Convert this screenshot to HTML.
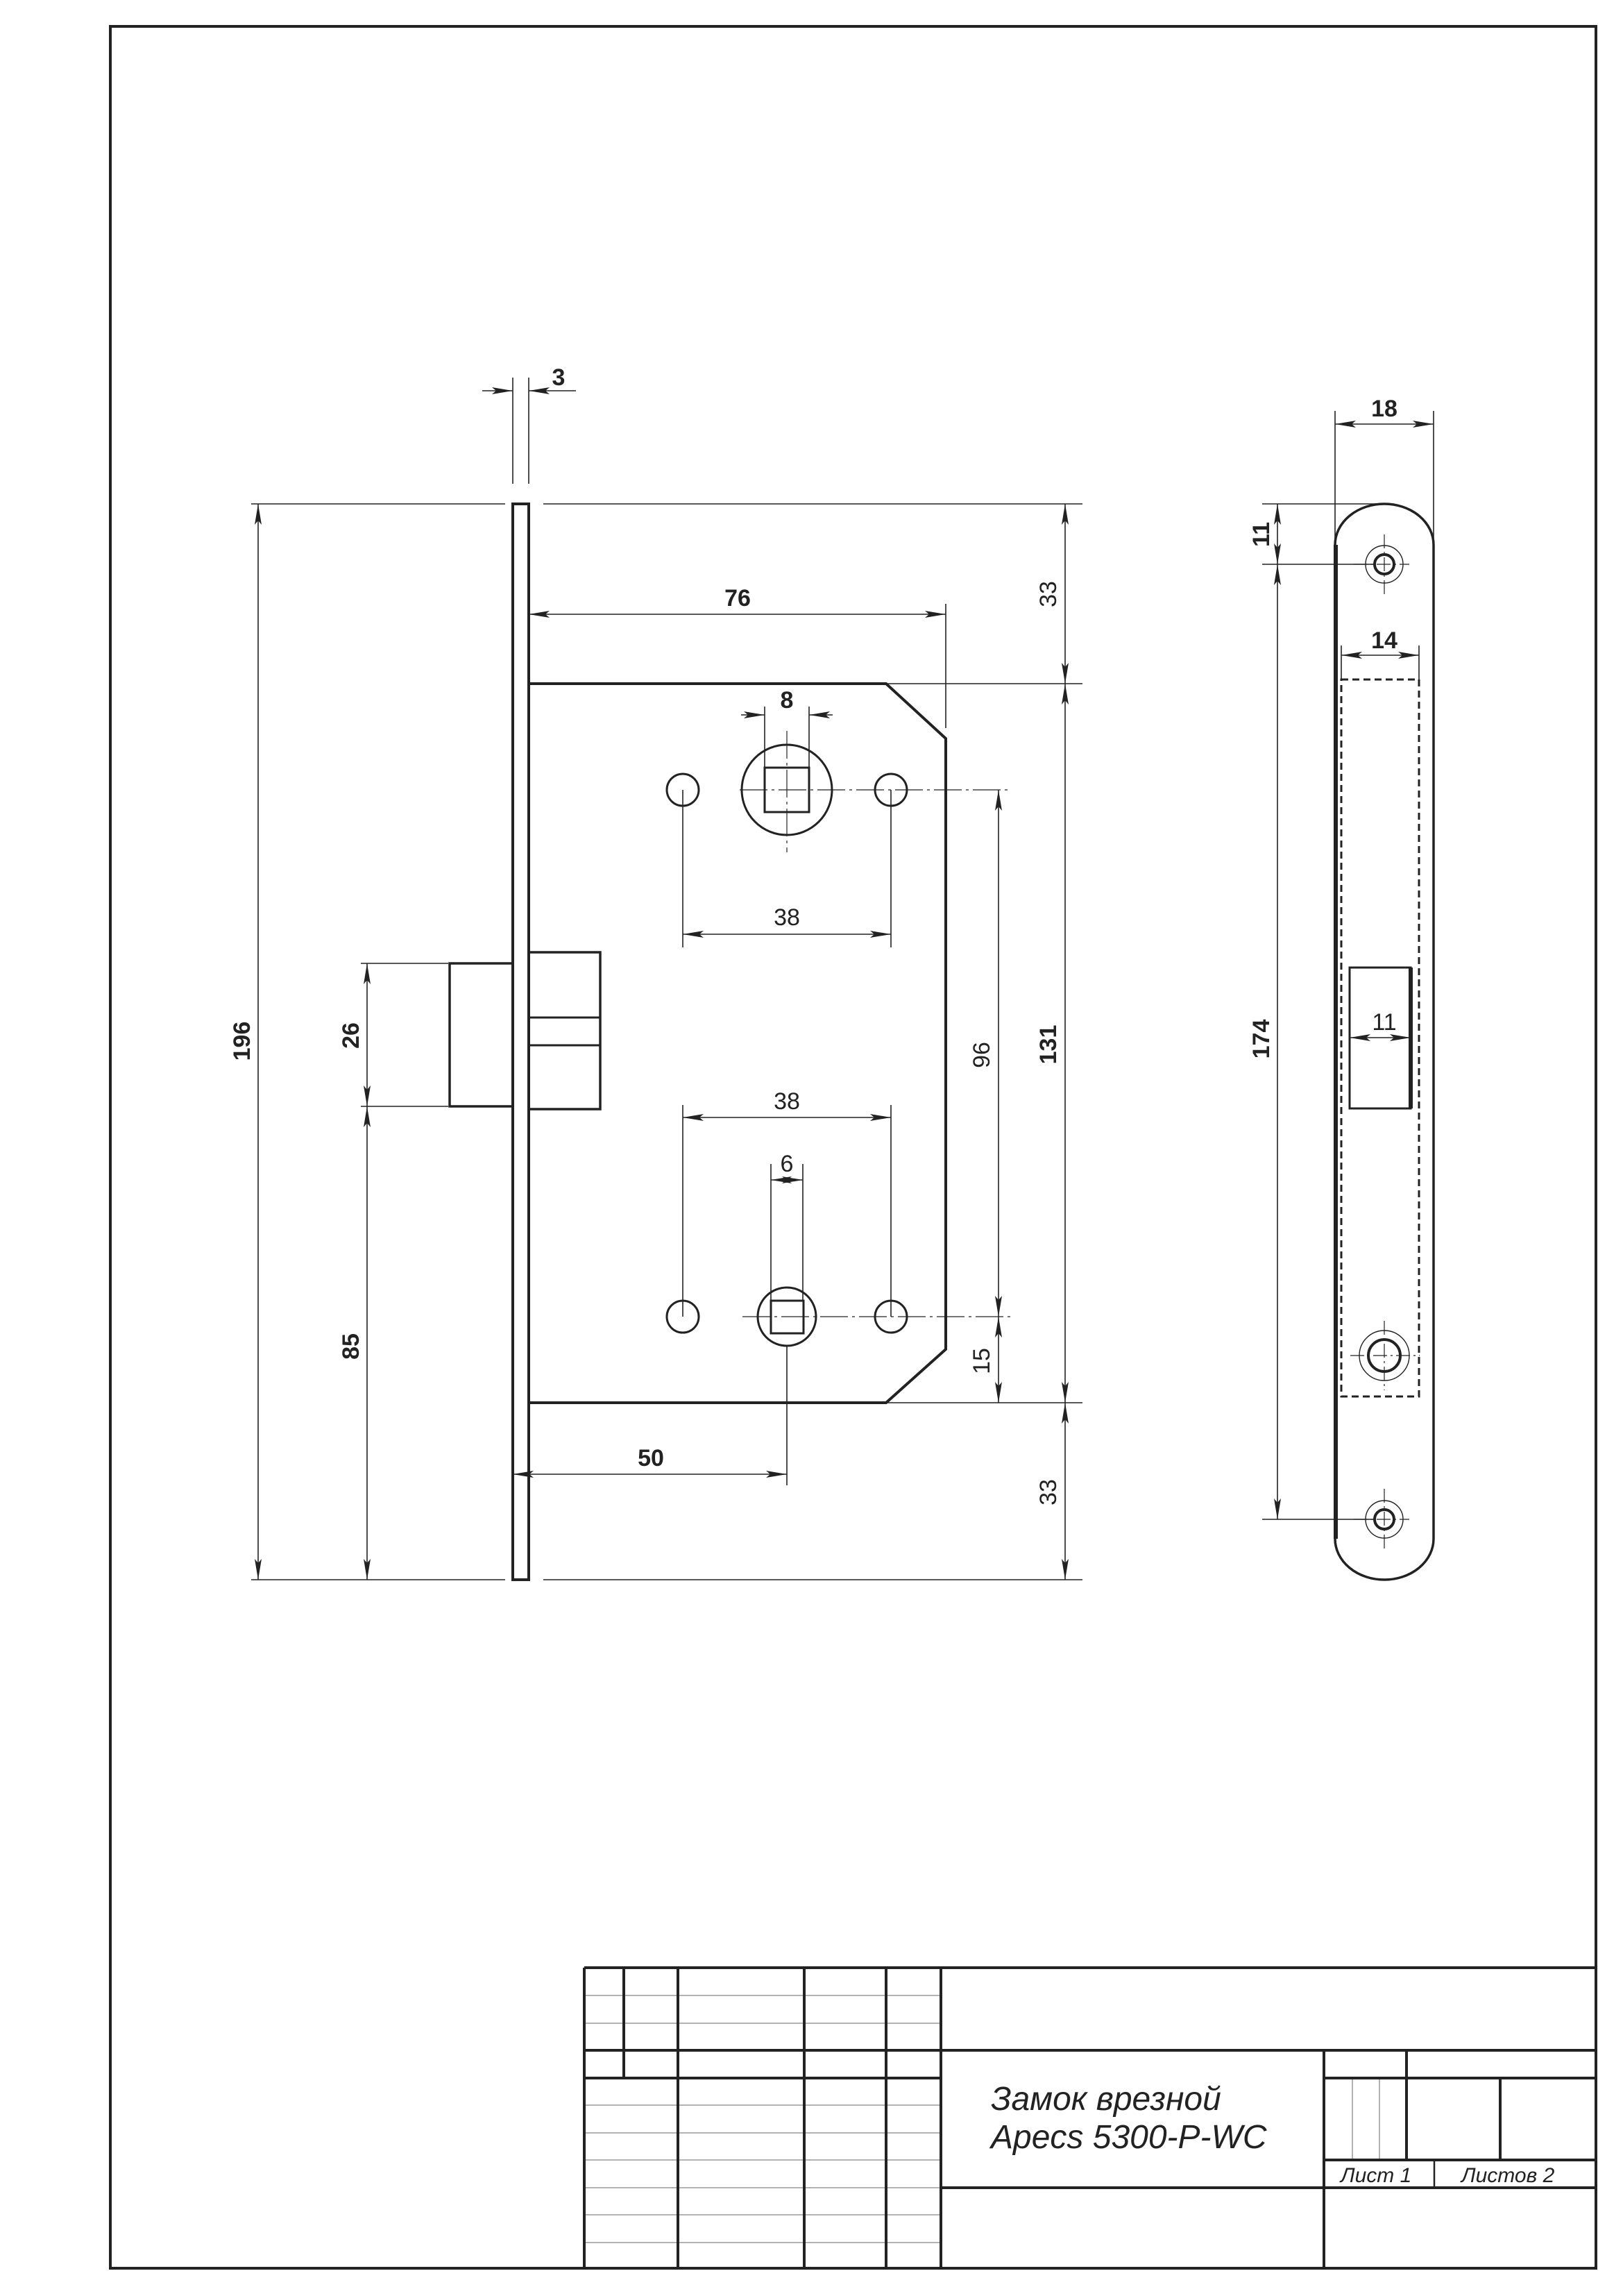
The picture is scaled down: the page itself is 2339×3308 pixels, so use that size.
<!DOCTYPE html>
<html><head><meta charset="utf-8"><style>
html,body{margin:0;padding:0;background:#fff}
svg{display:block}
text{font-family:"Liberation Sans",sans-serif;fill:#222}
</style></head><body>
<svg width="2339" height="3308" viewBox="0 0 2339 3308" xmlns="http://www.w3.org/2000/svg">
<defs>
<marker id="a" viewBox="0 0 30 10" refX="30" refY="5" markerWidth="30" markerHeight="10" markerUnits="userSpaceOnUse" orient="auto-start-reverse">
<path d="M0,0 L30,5 L0,10 L6,5 Z" fill="#222"/></marker>
</defs>
<g stroke="#222" fill="none">
<!-- frame -->
<rect x="159" y="38" width="2141" height="3230" stroke-width="4"/>

<!-- faceplate -->
<rect x="739" y="726" width="23" height="1550" stroke-width="4"/>
<!-- body -->
<path d="M762,985 H1277 L1363,1064 V1944 L1277,2021 H762" stroke-width="4"/>
<!-- latch -->
<rect x="648" y="1388" width="91" height="206" stroke-width="3.5"/>
<rect x="762" y="1372" width="103" height="226" stroke-width="3.5"/>
<line x1="762" y1="1466" x2="865" y2="1466" stroke-width="3"/>
<line x1="762" y1="1506" x2="865" y2="1506" stroke-width="3"/>

<!-- holes -->
<g stroke-width="3">
<circle cx="984" cy="1138" r="23"/><circle cx="1284" cy="1138" r="23"/>
<circle cx="984" cy="1897" r="23"/><circle cx="1284" cy="1897" r="23"/>
<circle cx="1134" cy="1138" r="65"/>
<rect x="1102" y="1106" width="64" height="64"/>
<circle cx="1134" cy="1897" r="42"/>
<rect x="1111" y="1874" width="47" height="47"/>
</g>
<!-- centerlines -->
<g stroke-width="1.2" stroke-dasharray="40,6,4,6">
<line x1="1066" y1="1138" x2="1457" y2="1138"/>
<line x1="1134" y1="1053" x2="1134" y2="1228"/>
<line x1="1070" y1="1897" x2="1457" y2="1897"/>
</g>

<!-- dimension lines -->
<g stroke-width="1.6">
<line x1="739" y1="544" x2="739" y2="697"/><line x1="762" y1="544" x2="762" y2="697"/>
<line x1="695" y1="563" x2="739" y2="563" marker-end="url(#a)"/>
<line x1="830" y1="563" x2="762" y2="563" marker-end="url(#a)"/>
<line x1="362" y1="726" x2="728" y2="726"/><line x1="362" y1="2276" x2="728" y2="2276"/>
<line x1="372" y1="726" x2="372" y2="2276" marker-start="url(#a)" marker-end="url(#a)"/>
<line x1="520" y1="1388" x2="646" y2="1388"/><line x1="520" y1="1594" x2="646" y2="1594"/>
<line x1="529" y1="1388" x2="529" y2="1594" marker-start="url(#a)" marker-end="url(#a)"/>
<line x1="529" y1="1594" x2="529" y2="2276" marker-start="url(#a)" marker-end="url(#a)"/>
<line x1="1363" y1="870" x2="1363" y2="1049"/>
<line x1="762" y1="885" x2="1363" y2="885" marker-start="url(#a)" marker-end="url(#a)"/>
<line x1="783" y1="726" x2="1560" y2="726"/><line x1="783" y1="2276" x2="1560" y2="2276"/>
<line x1="1277" y1="985" x2="1560" y2="985"/><line x1="1277" y1="2021" x2="1560" y2="2021"/>
<line x1="1535" y1="726" x2="1535" y2="985" marker-start="url(#a)" marker-end="url(#a)"/>
<line x1="1535" y1="985" x2="1535" y2="2021" marker-start="url(#a)" marker-end="url(#a)"/>
<line x1="1535" y1="2021" x2="1535" y2="2276" marker-start="url(#a)" marker-end="url(#a)"/>
<line x1="1439" y1="1138" x2="1439" y2="1897" marker-start="url(#a)" marker-end="url(#a)"/>
<line x1="1439" y1="1897" x2="1439" y2="2021" marker-start="url(#a)" marker-end="url(#a)"/>
<line x1="984" y1="1138" x2="984" y2="1365"/><line x1="1284" y1="1138" x2="1284" y2="1365"/>
<line x1="984" y1="1346" x2="1284" y2="1346" marker-start="url(#a)" marker-end="url(#a)"/>
<line x1="984" y1="1592" x2="984" y2="1897"/><line x1="1284" y1="1592" x2="1284" y2="1897"/>
<line x1="984" y1="1610" x2="1284" y2="1610" marker-start="url(#a)" marker-end="url(#a)"/>
<line x1="1102" y1="1018" x2="1102" y2="1106"/><line x1="1166" y1="1018" x2="1166" y2="1106"/>
<line x1="1068" y1="1030" x2="1102" y2="1030" marker-end="url(#a)"/>
<line x1="1200" y1="1030" x2="1166" y2="1030" marker-end="url(#a)"/>
<line x1="1111" y1="1677" x2="1111" y2="1874"/><line x1="1157" y1="1677" x2="1157" y2="1874"/>
<line x1="1134" y1="1700" x2="1111" y2="1700" marker-end="url(#a)"/>
<line x1="1134" y1="1700" x2="1157" y2="1700" marker-end="url(#a)"/>
<line x1="1134" y1="1940" x2="1134" y2="2140"/>
<line x1="739" y1="2124" x2="1134" y2="2124" marker-start="url(#a)" marker-end="url(#a)"/>
</g>

<!-- strike plate -->
<g transform="translate(-9,0)">
<path d="M1933,785 A71,59 0 0 1 2075,785 V2217 A71,59 0 0 1 1933,2217 Z" stroke-width="3.5"/>
<line x1="1934" y1="785" x2="1934" y2="2217" stroke-width="6"/>
<rect x="1942" y="979" width="112" height="1033" stroke-width="3" stroke-dasharray="10,6"/>
<rect x="1954" y="1394" width="88" height="203" stroke-width="3"/>
<line x1="2042" y1="1394" x2="2042" y2="1597" stroke-width="6"/>
<g stroke-width="1.4"><circle cx="2004" cy="813" r="27"/><circle cx="2004" cy="1953" r="36"/><circle cx="2004" cy="2189" r="27"/></g>
<g stroke-width="4"><circle cx="2004" cy="813" r="14"/><circle cx="2004" cy="1953" r="23"/><circle cx="2004" cy="2189" r="14"/></g>
<g stroke-width="1.2" stroke-dasharray="20,5,3,5">
<line x1="2004" y1="770" x2="2004" y2="860"/><line x1="1960" y1="813" x2="2040" y2="813"/>
<line x1="2004" y1="1903" x2="2004" y2="2003"/><line x1="1955" y1="1953" x2="2055" y2="1953"/>
<line x1="2004" y1="2145" x2="2004" y2="2235"/><line x1="1960" y1="2189" x2="2040" y2="2189"/>
</g>
<g stroke-width="1.6">
<line x1="1933" y1="592" x2="1933" y2="780"/><line x1="2075" y1="592" x2="2075" y2="780"/>
<line x1="1933" y1="611" x2="2075" y2="611" marker-start="url(#a)" marker-end="url(#a)"/>
<line x1="1942" y1="930" x2="1942" y2="979"/><line x1="2054" y1="930" x2="2054" y2="979"/>
<line x1="1942" y1="944" x2="2054" y2="944" marker-start="url(#a)" marker-end="url(#a)"/>
<line x1="1954" y1="1495" x2="2042" y2="1495" marker-start="url(#a)" marker-end="url(#a)"/>
<line x1="1828" y1="726" x2="2004" y2="726"/><line x1="1828" y1="813" x2="1990" y2="813"/><line x1="1828" y1="2189" x2="1990" y2="2189"/>
<line x1="1850" y1="726" x2="1850" y2="813" marker-start="url(#a)" marker-end="url(#a)"/>
<line x1="1850" y1="813" x2="1850" y2="2189" marker-start="url(#a)" marker-end="url(#a)"/>
</g>
</g>

<!-- title block -->
<g stroke-width="1.5" stroke="#999">
<line x1="842" y1="2875" x2="1356" y2="2875"/><line x1="842" y1="2915" x2="1356" y2="2915"/>
<line x1="842" y1="3033" x2="1356" y2="3033"/><line x1="842" y1="3073" x2="1356" y2="3073"/>
<line x1="842" y1="3112" x2="1356" y2="3112"/><line x1="842" y1="3152" x2="1356" y2="3152"/>
<line x1="842" y1="3191" x2="1356" y2="3191"/><line x1="842" y1="3231" x2="1356" y2="3231"/>
<line x1="1949" y1="2994" x2="1949" y2="3112"/><line x1="1988" y1="2994" x2="1988" y2="3112"/>
</g>
<g stroke-width="4">
<line x1="842" y1="2835" x2="2300" y2="2835"/>
<line x1="842" y1="2954" x2="2300" y2="2954"/>
<line x1="842" y1="2994" x2="1356" y2="2994"/><line x1="1908" y1="2994" x2="2300" y2="2994"/>
<line x1="1908" y1="3112" x2="2300" y2="3112"/>
<line x1="1356" y1="3152" x2="2300" y2="3152"/>
<line x1="842" y1="2835" x2="842" y2="3268"/>
<line x1="899" y1="2835" x2="899" y2="2994"/>
<line x1="977" y1="2835" x2="977" y2="3268"/>
<line x1="1159" y1="2835" x2="1159" y2="3268"/>
<line x1="1277" y1="2835" x2="1277" y2="3268"/>
<line x1="1356" y1="2835" x2="1356" y2="3268"/>
<line x1="1908" y1="2954" x2="1908" y2="3268"/>
<line x1="2027" y1="2954" x2="2027" y2="3112"/>
<line x1="2162" y1="2994" x2="2162" y2="3112"/>
</g>
<line x1="2067" y1="3112" x2="2067" y2="3152" stroke-width="2.5"/>
</g>

<!-- texts -->
<g font-size="34" text-anchor="middle">
<text x="805" y="555" font-weight="bold">3</text>
<text x="1063" y="873" font-weight="bold">76</text>
<text x="1134" y="1020" font-weight="bold">8</text>
<text x="1134" y="1333">38</text>
<text x="1134" y="1598">38</text>
<text x="1134" y="1688">6</text>
<text x="938" y="2112" font-weight="bold">50</text>
<text transform="translate(360,1500) rotate(-90)" font-weight="bold">196</text>
<text transform="translate(517,1492) rotate(-90)" font-weight="bold">26</text>
<text transform="translate(517,1940) rotate(-90)" font-weight="bold">85</text>
<text transform="translate(1522,856) rotate(-90)">33</text>
<text transform="translate(1522,1505) rotate(-90)" font-weight="bold">131</text>
<text transform="translate(1522,2150) rotate(-90)">33</text>
<text transform="translate(1426,1520) rotate(-90)">96</text>
<text transform="translate(1426,1961) rotate(-90)">15</text>
<text x="1995" y="600" font-weight="bold">18</text>
<text x="1995" y="934" font-weight="bold">14</text>
<text x="1995" y="1484">11</text>
<text transform="translate(1829,770) rotate(-90)" font-weight="bold">11</text>
<text transform="translate(1829,1497) rotate(-90)" font-weight="bold">174</text>
</g>
<text x="1428" y="3040" font-size="48" font-style="italic">Замок врезной</text>
<text x="1428" y="3095" font-size="48" font-style="italic">Apecs 5300-P-WC</text>
<text x="1932" y="3144" font-size="30" font-style="italic">Лист 1</text>
<text x="2106" y="3144" font-size="30" font-style="italic">Листов 2</text>
</svg>
</body></html>
